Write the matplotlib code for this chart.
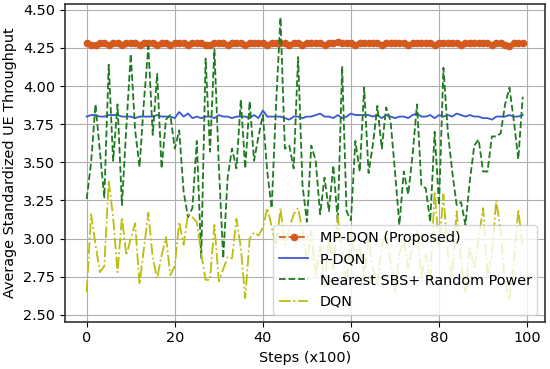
import numpy as np
import matplotlib
matplotlib.use('Agg')
import matplotlib.pyplot as plt

steps = list(range(100))

mp_dqn = [4.28, 4.27, 4.27, 4.28, 4.28, 4.27, 4.28, 4.28, 4.27, 4.28,
          4.28, 4.28, 4.27, 4.28, 4.28, 4.28, 4.27, 4.28, 4.28, 4.27,
          4.28, 4.28, 4.28, 4.27, 4.28, 4.28, 4.28, 4.27, 4.27, 4.28,
          4.28, 4.28, 4.27, 4.28, 4.28, 4.28, 4.27, 4.28, 4.28, 4.28,
          4.28, 4.27, 4.28, 4.28, 4.28, 4.28, 4.27, 4.28, 4.28, 4.27,
          4.28, 4.28, 4.28, 4.28, 4.27, 4.28, 4.28, 4.29, 4.28, 4.28,
          4.28, 4.27, 4.28, 4.28, 4.28, 4.28, 4.28, 4.27, 4.28, 4.28,
          4.28, 4.28, 4.28, 4.27, 4.28, 4.28, 4.28, 4.28, 4.28, 4.27,
          4.28, 4.28, 4.28, 4.28, 4.28, 4.27, 4.28, 4.28, 4.28, 4.28,
          4.28, 4.28, 4.27, 4.28, 4.28, 4.27, 4.26, 4.28, 4.28, 4.28]

p_dqn = [3.80, 3.81, 3.81, 3.80, 3.80, 3.81, 3.81, 3.81, 3.80, 3.80,
         3.80, 3.79, 3.80, 3.80, 3.80, 3.80, 3.81, 3.80, 3.80, 3.80,
         3.79, 3.83, 3.80, 3.82, 3.79, 3.80, 3.79, 3.80, 3.80, 3.79,
         3.81, 3.80, 3.80, 3.79, 3.80, 3.80, 3.80, 3.79, 3.81, 3.79,
         3.84, 3.80, 3.80, 3.80, 3.80, 3.79, 3.78, 3.80, 3.80, 3.79,
         3.80, 3.80, 3.81, 3.82, 3.80, 3.80, 3.79, 3.81, 3.79, 3.80,
         3.82, 3.81, 3.81, 3.81, 3.81, 3.80, 3.81, 3.79, 3.81, 3.80,
         3.79, 3.80, 3.80, 3.79, 3.81, 3.82, 3.80, 3.80, 3.81, 3.79,
         3.81, 3.80, 3.81, 3.80, 3.82, 3.81, 3.80, 3.81, 3.80, 3.80,
         3.79, 3.79, 3.78, 3.80, 3.80, 3.80, 3.81, 3.80, 3.80, 3.81]

nearest_sbs = [3.26, 3.50, 3.88, 3.57, 3.27, 4.14, 3.51, 3.88, 3.22, 3.73,
               4.21, 3.71, 3.47, 3.90, 4.26, 3.68, 4.08, 3.46, 3.78, 3.81,
               3.59, 3.71, 3.31, 3.14, 3.20, 3.64, 2.87, 4.18, 3.57, 4.24,
               3.48, 2.87, 3.40, 3.59, 3.46, 3.91, 3.46, 3.90, 3.51, 3.67,
               3.81, 3.44, 3.20, 3.88, 4.45, 3.59, 3.61, 3.46, 4.19, 3.35,
               3.11, 3.61, 3.51, 3.16, 3.40, 3.18, 3.48, 3.11, 4.13, 3.18,
               3.12, 3.64, 3.44, 3.99, 3.43, 3.62, 3.87, 3.59, 3.86, 3.77,
               3.44, 3.09, 3.44, 3.29, 3.55, 3.88, 3.35, 3.33, 3.11, 3.70,
               3.22, 4.12, 3.70, 3.44, 3.22, 3.24, 3.09, 3.38, 3.61, 3.65,
               3.44, 3.44, 3.67, 3.67, 3.69, 3.88, 3.99, 3.77, 3.52, 3.93]

dqn = [2.65, 3.16, 2.96, 2.78, 2.82, 3.38, 3.14, 2.78, 3.14, 2.89,
       3.00, 3.10, 2.70, 2.94, 3.17, 2.87, 2.74, 2.89, 3.01, 2.76,
       2.82, 3.11, 2.96, 3.16, 3.14, 3.11, 2.90, 2.73, 2.73, 3.09,
       2.72, 2.80, 2.88, 2.87, 3.13, 2.94, 2.61, 3.00, 3.04, 3.02,
       3.07, 3.20, 3.08, 2.94, 3.20, 2.96, 3.07, 3.16, 3.20, 3.05,
       2.85, 3.05, 2.75, 2.95, 2.70, 3.00, 2.80, 3.15, 2.90, 2.70,
       3.05, 2.85, 2.95, 2.75, 3.00, 2.80, 2.70, 2.95, 3.05, 2.85,
       2.65, 2.90, 3.00, 2.80, 2.95, 3.05, 2.75, 2.90, 2.70, 3.31,
       2.95, 3.29, 2.90, 2.75, 3.18, 2.85, 2.65, 2.95, 2.80, 3.00,
       3.20, 2.75, 2.90, 3.25, 3.05, 2.70, 2.60, 2.85, 3.19, 2.95]

fig, ax = plt.subplots(figsize=(5.5, 3.69), dpi=100)

ax.plot(steps, mp_dqn, color="#d4591c", ls="--", marker="o", markersize=4.5,
        lw=1.3, label="MP-DQN (Proposed)")
ax.plot(steps, p_dqn, color="#3b57d1", lw=1.3, label="P-DQN")
ax.plot(steps, nearest_sbs, color="#217a21", ls="--", lw=1.3,
        label="Nearest SBS+ Random Power")
ax.plot(steps, dqn, color="#bdbd10", ls="-.", lw=1.3, label="DQN")

ax.set_ylim(2.455, 4.54)
ax.set_yticks([2.50, 2.75, 3.00, 3.25, 3.50, 3.75, 4.00, 4.25, 4.50])
ax.set_xticks([0, 20, 40, 60, 80, 100])
ax.set_xlabel("Steps (x100)", fontsize=10.4)
ax.set_ylabel("Average Standardized UE Throughput", fontsize=10.4)
ax.tick_params(labelsize=10.4)
ax.grid(True, color="#b0b0b0", lw=0.8)
for sp in ax.spines.values():
    sp.set_linewidth(1.2)
    sp.set_color("#333333")

ax.legend(loc="lower right", fontsize=10.4)

plt.subplots_adjust(left=0.118, right=0.99, top=0.99, bottom=0.128)
plt.savefig("out.png", dpi=100)
plt.close()
